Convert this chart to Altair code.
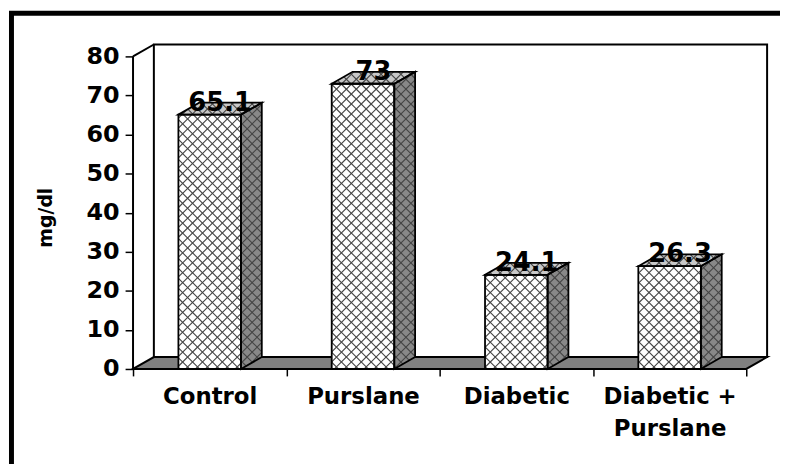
import altair as alt
import pandas as pd
import numpy as np

# ---------------- data ----------------
categories = ["Control", "Purslane", "Diabetic", "Diabetic + Purslane"]
category_lines = [["Control"], ["Purslane"], ["Diabetic"], ["Diabetic +", "Purslane"]]
values = [65.1, 73, 24.1, 26.3]
value_labels = ["65.1", "73", "24.1", "26.3"]
y_ticks = [0, 10, 20, 30, 40, 50, 60, 70, 80]
y_title = "mg/dl"

# ---------------- geometry (scale set-up) ----------------
PXU = 154.5          # px per category unit
PYV = 3.9375         # px per mg/dl
DXP, DYP = 21, 12    # depth offset of the 3-D effect in px
DXU = DXP / PXU
DYU = DYP / PYV
NCAT = len(categories)
YTOP = max(y_ticks)
XMAX = NCAT + DXU
YMAX = YTOP + DYU
W = XMAX * PXU
H = YMAX * PYV
HALF = 0.204         # half bar width in category units
FONT = "DejaVu Sans"

xs = alt.Scale(domain=[0, XMAX], nice=False, zero=False)
ys = alt.Scale(domain=[0, YMAX], nice=False, zero=False)

label_arr = "[" + ",".join("[" + ",".join("'" + s + "'" for s in ln) + "]" for ln in category_lines) + "]"
xaxis = alt.Axis(
    values=[k / 2 for k in range(2 * NCAT + 1)],
    labelExpr=f"datum.value % 1 == 0 ? '' : {label_arr}[floor(datum.value)]",
    tickOpacity={"condition": {"test": "datum.value % 1 != 0", "value": 0}, "value": 1},
    tickSize=7, tickWidth=1.5, tickColor="black",
    domain=False, grid=False, title=None,
    labelFont=FONT, labelFontWeight="bold", labelFontSize=23, labelColor="black",
    labelBaseline="top", labelPadding=10, labelLineHeight=32,
    labelOverlap=False, labelBound=False, labelFlush=False,
)
yaxis = alt.Axis(
    values=y_ticks, tickSize=8, tickWidth=1.5, tickColor="black",
    domain=False, grid=False,
    labelFont=FONT, labelFontWeight="bold", labelFontSize=24, labelColor="black",
    labelPadding=6, labelOverlap=False,
    title=y_title, titleFont=FONT, titleFontWeight="bold", titleFontSize=19,
    titleColor="black", titleAngle=270, titleAlign="center", titleBaseline="middle",
    titleX=-88, titleY=174,
)


def X(f):
    return alt.X(f, type="quantitative", scale=xs, axis=xaxis)


def Y(f):
    return alt.Y(f, type="quantitative", scale=ys, axis=yaxis)


# ---------------- derived tables ----------------
bars = pd.DataFrame({
    "cat": categories,
    "v": values,
    "lab": value_labels,
    "xc": [i + 0.5 for i in range(NCAT)],
})
bars["xl"] = bars["xc"] - HALF
bars["xr"] = bars["xc"] + HALF

side_rows, top_rows = [], []
polys = []
for i, r in bars.iterrows():
    xl, xr, v = r.xl, r.xr, r.v
    side_rows += [
        {"id": i, "u": xr, "y": v, "y2": 0},
        {"id": i, "u": xr + DXU, "y": v + DYU, "y2": DYU},
    ]
    top_rows += [
        {"id": i, "u": xl, "y": v, "y2": v},
        {"id": i, "u": xl + DXU, "y": v + DYU, "y2": v},
        {"id": i, "u": xr, "y": v + DYU, "y2": v},
        {"id": i, "u": xr + DXU, "y": v + DYU, "y2": v + DYU},
    ]
    polys.append([(xl, 0), (xr, 0), (xr, v), (xl, v)])
    polys.append([(xr, 0), (xr + DXU, DYU), (xr + DXU, v + DYU), (xr, v)])
    polys.append([(xl, v), (xr, v), (xr + DXU, v + DYU), (xl + DXU, v + DYU)])
side = pd.DataFrame(side_rows)
top = pd.DataFrame(top_rows)

floor = pd.DataFrame([
    {"id": 0, "u": 0, "y": 0, "y2": 0},
    {"id": 0, "u": DXU, "y": DYU, "y2": 0},
    {"id": 0, "u": NCAT, "y": DYU, "y2": 0},
    {"id": 0, "u": NCAT + DXU, "y": DYU, "y2": DYU},
])
wall = pd.DataFrame([{"u": DXU, "u2": XMAX, "y": DYU, "y2": YMAX}])
edges = pd.DataFrame([
    {"u": 0, "y": 0, "u2": 0, "y2": YTOP},
    {"u": 0, "y": YTOP, "u2": DXU, "y2": YMAX},
])


# crosshatch lines clipped to each face (computed in pixel space, stored in data units)
def to_px(p):
    return np.array([p[0] * PXU, (YMAX - p[1]) * PYV])


def clip(poly, p0, d):
    c = np.mean(poly, axis=0)
    t0, t1 = -1e9, 1e9
    n = len(poly)
    for k in range(n):
        a, b = poly[k], poly[(k + 1) % n]
        e = b - a
        nrm = np.array([-e[1], e[0]])
        if np.dot(nrm, c - a) < 0:
            nrm = -nrm
        num = np.dot(nrm, p0 - a)
        den = np.dot(nrm, d)
        if abs(den) < 1e-12:
            if num < 0:
                return None
            continue
        t = -num / den
        if den > 0:
            t0 = max(t0, t)
        else:
            t1 = min(t1, t)
    if t1 - t0 < 0.5:
        return None
    return p0 + t0 * d, p0 + t1 * d


STEP = 10.0
hrows = []
for poly in polys:
    pp = np.array([to_px(p) for p in poly])
    for sgn in (1, -1):
        cs = pp[:, 0] - sgn * pp[:, 1]
        d = np.array([sgn * 1.0, 1.0])
        c = np.ceil(cs.min() / STEP) * STEP
        while c < cs.max():
            seg = clip(pp, np.array([c, 0.0]), d)
            if seg is not None:
                a, b = seg
                hrows.append({
                    "u": a[0] / PXU, "y": YMAX - a[1] / PYV,
                    "u2": b[0] / PXU, "y2": YMAX - b[1] / PYV,
                })
            c += STEP
hatch = pd.DataFrame(hrows)

# ---------------- layers ----------------
frame = alt.Chart(wall).mark_rect(fillOpacity=0, stroke="black", strokeWidth=5).encode(
    x=alt.value(-122.5), x2=alt.value(900), y=alt.value(-31.5), y2=alt.value(700)
)
wall_l = alt.Chart(wall).mark_rect(fill="white", stroke="black", strokeWidth=2).encode(
    x=X("u"), x2="u2", y=Y("y"), y2="y2"
)
floor_l = alt.Chart(floor).mark_area(fill="#808080", stroke="black", strokeWidth=2).encode(
    x=X("u"), y=Y("y"), y2="y2", detail="id:N"
)
edge_l = alt.Chart(edges).mark_rule(color="black", strokeWidth=2).encode(
    x=X("u"), y=Y("y"), x2="u2", y2="y2"
)
side_fill = alt.Chart(side).mark_area(fill="#888888").encode(
    x=X("u"), y=Y("y"), y2="y2", detail="id:N"
)
top_fill = alt.Chart(top).mark_area(fill="#c8c8c8").encode(
    x=X("u"), y=Y("y"), y2="y2", detail="id:N"
)
front_fill = alt.Chart(bars).mark_rect(fill="white").encode(
    x=X("xl"), x2="xr", y=alt.Y("v:Q", scale=ys, axis=yaxis), y2=alt.datum(0)
)
hatch_l = alt.Chart(hatch).mark_rule(color="#444444", strokeWidth=1.1).encode(
    x=X("u"), y=Y("y"), x2="u2", y2="y2"
)
side_out = alt.Chart(side).mark_area(fillOpacity=0, stroke="black", strokeWidth=1.8).encode(
    x=X("u"), y=Y("y"), y2="y2", detail="id:N"
)
top_out = alt.Chart(top).mark_area(fillOpacity=0, stroke="black", strokeWidth=1.8).encode(
    x=X("u"), y=Y("y"), y2="y2", detail="id:N"
)
front_out = alt.Chart(bars).mark_rect(fillOpacity=0, stroke="black", strokeWidth=1.8).encode(
    x=X("xl"), x2="xr", y=alt.Y("v:Q", scale=ys, axis=yaxis), y2=alt.datum(0)
)
text_l = alt.Chart(bars).mark_text(
    font=FONT, fontWeight="bold", fontSize=26, color="black",
    align="center", baseline="alphabetic", dx=DXP / 2, dy=-4,
).encode(x=X("xc"), y=alt.Y("v:Q", scale=ys, axis=yaxis), text="lab:N")

chart = alt.layer(
    frame, wall_l, floor_l, edge_l, side_fill, top_fill, front_fill, hatch_l,
    side_out, top_out, front_out, text_l,
).properties(
    width=W, height=H,
    autosize=alt.AutoSizeParams(type="none"),
    padding={"left": 126, "top": 35, "right": 778 - 126 - W, "bottom": 456 - 35 - H},
    background="white",
).configure_view(stroke=None)

chart.save("out.html", embed_options={"renderer": "svg", "actions": False})
